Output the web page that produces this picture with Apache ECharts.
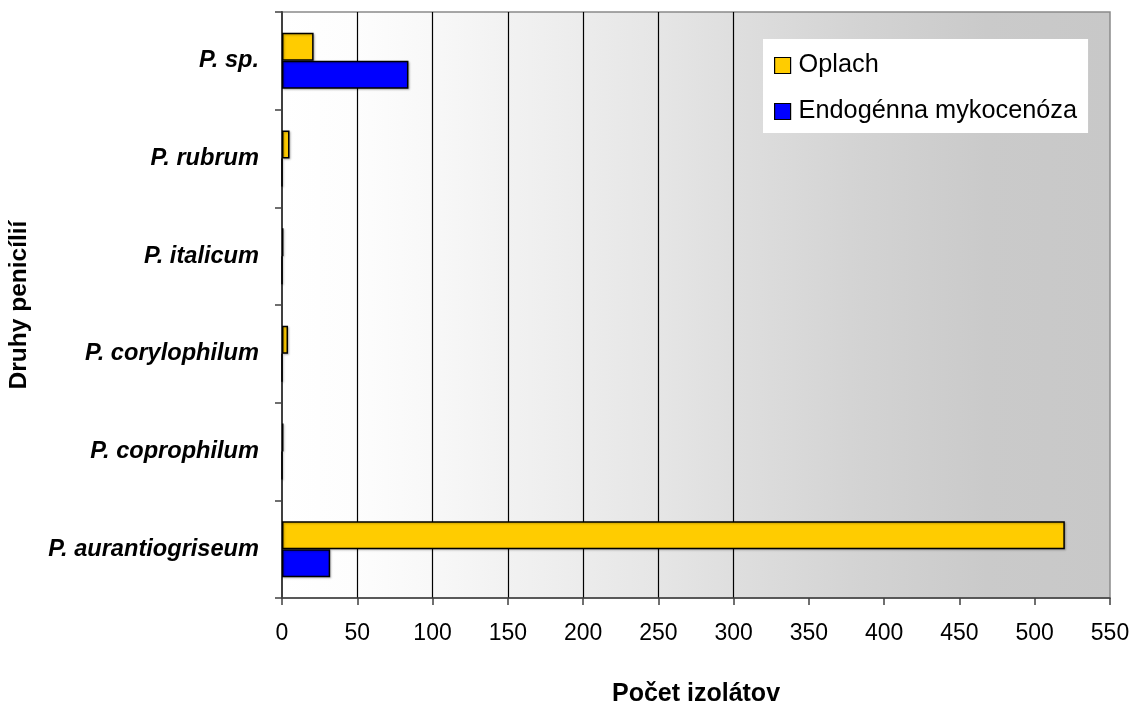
<!DOCTYPE html>
<html>
<head>
<meta charset="utf-8">
<title>Druhy penicílií</title>
<script src="https://cdn.jsdelivr.net/npm/echarts@6/dist/echarts.min.js"></script>
<style>
  html, body { margin: 0; padding: 0; background: #ffffff; }
  #chart { width: 1134px; height: 702px; }
</style>
</head>
<body>
<div id="chart"></div>
<script>
// Species, listed bottom to top as they appear on the axis
const species = [
  'P. aurantiogriseum',
  'P. coprophilum',
  'P. corylophilum',
  'P. italicum',
  'P. rubrum',
  'P. sp.'
];
// Number of isolates per species
const oplach = [520, 1, 4, 1, 5, 21];
const endogenna = [32, 0, 0, 0, 0, 84];
const seriesNames = ['Oplach', 'Endogénna mykocenóza'];
// Value axis range
const xMin = 0;
const xMax = 550;
const xStep = 50;

const FONT = '"Liberation Sans", Arial, sans-serif';

// Gridlines only appear between 50 and 300
const splitColors = [];
for (let v = xMin; v <= xMax; v += xStep) {
  splitColors.push(v >= 50 && v <= 300 ? '#000000' : 'rgba(0,0,0,0)');
}

const barStyle = {
  borderColor: '#000000',
  borderWidth: 1.5,
  shadowColor: 'rgba(0,0,0,0.25)',
  shadowBlur: 2,
  shadowOffsetX: 1,
  shadowOffsetY: 1
};

const chart = echarts.init(document.getElementById('chart'), null, { renderer: 'canvas' });
chart.setOption({
  animation: false,
  backgroundColor: '#ffffff',
  textStyle: { fontFamily: FONT, color: '#000000' },
  grid: {
    left: 282, right: 24, top: 12, bottom: 104,
    containLabel: false,
    outerBoundsMode: 'none',
    show: true,
    borderColor: '#8a8a8a',
    borderWidth: 1.5,
    backgroundColor: {
      type: 'linear', x: 0, y: 0, x2: 1, y2: 0,
      colorStops: [
        { offset: 0, color: '#ffffff' },
        { offset: 0.09, color: '#fdfdfd' },
        { offset: 0.18, color: '#f8f8f8' },
        { offset: 0.27, color: '#f2f2f2' },
        { offset: 0.36, color: '#ececec' },
        { offset: 0.45, color: '#e6e6e6' },
        { offset: 0.55, color: '#dedede' },
        { offset: 0.7, color: '#d3d3d3' },
        { offset: 0.85, color: '#cacaca' },
        { offset: 1, color: '#c8c8c8' }
      ]
    }
  },
  legend: {
    data: seriesNames,
    orient: 'vertical',
    left: 763, top: 39,
    padding: [14, 11, 9, 11],
    itemGap: 21,
    itemWidth: 16, itemHeight: 16,
    itemStyle: { borderColor: '#000000', borderWidth: 1.2 },
    backgroundColor: '#ffffff',
    icon: 'rect',
    textStyle: { fontFamily: FONT, fontSize: 25.3, color: '#000000', padding: [0, 0, 0, 3] }
  },
  xAxis: {
    type: 'value',
    min: xMin, max: xMax, interval: xStep,
    name: 'Počet izolátov',
    nameLocation: 'middle',
    nameGap: 84,
    nameTextStyle: { fontFamily: FONT, fontSize: 25, fontWeight: 'bold', color: '#000000' },
    axisLine: { show: true, lineStyle: { color: '#404040', width: 1.5 } },
    axisTick: { show: true, length: 7, lineStyle: { color: '#404040', width: 1.5 } },
    axisLabel: { fontFamily: FONT, fontSize: 23, color: '#000000', margin: 24 },
    splitLine: { show: true, lineStyle: { color: splitColors, width: 1.2 } }
  },
  yAxis: {
    type: 'category',
    data: species,
    name: 'Druhy penicílií',
    nameLocation: 'middle',
    nameGap: 250,
    nameRotate: 90,
    nameTextStyle: { fontFamily: FONT, fontSize: 24.5, fontWeight: 'bold', color: '#000000' },
    axisLine: { show: true, lineStyle: { color: '#404040', width: 2 } },
    axisTick: { show: true, length: 7, alignWithLabel: false, lineStyle: { color: '#404040', width: 1.5 } },
    axisLabel: { fontFamily: FONT, fontSize: 23.6, fontWeight: 'bold', fontStyle: 'italic', color: '#000000', margin: 23 },
    splitLine: { show: false }
  },
  series: [
    {
      name: seriesNames[0],
      type: 'bar',
      data: oplach,
      barWidth: 28,
      barGap: '0%',
      itemStyle: Object.assign({ color: '#ffcc00' }, barStyle)
    },
    {
      name: seriesNames[1],
      type: 'bar',
      data: endogenna,
      barWidth: 28,
      barGap: '0%',
      itemStyle: Object.assign({ color: '#0000ff' }, barStyle)
    }
  ]
});
</script>
</body>
</html>
